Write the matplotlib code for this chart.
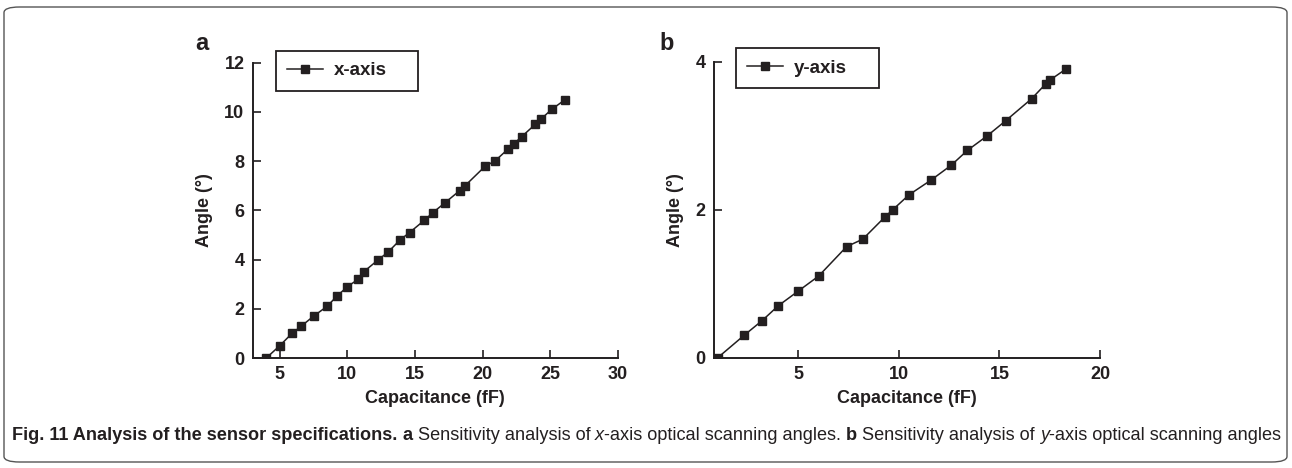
import matplotlib
matplotlib.use("Agg")
import matplotlib.pyplot as plt
from matplotlib.patches import FancyBboxPatch

plt.rcParams['font.family'] = ['Liberation Sans', 'DejaVu Sans']

# x-axis sensor: capacitance (fF) vs angle (deg)
cap_x = [4.0, 5.0, 5.9, 6.6, 7.5, 8.5, 9.2, 10.0, 10.8, 11.2, 12.3, 13.0, 13.9, 14.6,
         15.7, 16.3, 17.2, 18.3, 18.7, 20.2, 20.9, 21.9, 22.3, 22.9, 23.9, 24.3, 25.1, 26.1]
ang_x = [0.0, 0.5, 1.0, 1.3, 1.7, 2.1, 2.5, 2.9, 3.2, 3.5, 4.0, 4.3, 4.8, 5.1,
         5.6, 5.9, 6.3, 6.8, 7.0, 7.8, 8.0, 8.5, 8.7, 9.0, 9.5, 9.7, 10.1, 10.5]

# y-axis sensor
cap_y = [1.0, 2.3, 3.2, 4.0, 5.0, 6.0, 7.4, 8.2, 9.3, 9.7, 10.5, 11.6, 12.6, 13.4,
         14.4, 15.3, 16.6, 17.3, 17.5, 18.3]
ang_y = [0.0, 0.3, 0.5, 0.7, 0.9, 1.1, 1.5, 1.6, 1.9, 2.0, 2.2, 2.4, 2.6, 2.8,
         3.0, 3.2, 3.5, 3.7, 3.75, 3.9]

ink = '#231f20'

fig = plt.figure(figsize=(12.92, 4.68), dpi=100)

ax1 = fig.add_axes([0.1956, 0.235, 0.2826, 0.631])
ax2 = fig.add_axes([0.5526, 0.2361, 0.2988, 0.632])

def style(ax):
    for s in ['top', 'right']:
        ax.spines[s].set_visible(False)
    for s in ['left', 'bottom']:
        ax.spines[s].set_linewidth(1.4)
        ax.spines[s].set_color(ink)
    ax.tick_params(direction='in', length=6, width=1.2, color=ink,
                   labelsize=13, pad=6)
    for lab in ax.get_xticklabels() + ax.get_yticklabels():
        lab.set_fontweight('bold')
        lab.set_color(ink)

ax1.plot(cap_x, ang_x, color=ink, lw=1.1, marker='s', ms=5.5, label='x-axis')
ax1.set_xlim(3, 30)
ax1.set_ylim(0, 12)
ax1.set_xticks([5, 10, 15, 20, 25, 30])
ax1.set_yticks([0, 2, 4, 6, 8, 10, 12])
style(ax1)
ax1.set_xlabel('Capacitance (fF)', fontsize=13, fontweight='bold', color=ink, labelpad=5)
ax1.set_ylabel('Angle (°)', fontsize=13, fontweight='bold', color=ink, labelpad=8)

ax2.plot(cap_y, ang_y, color=ink, lw=1.1, marker='s', ms=5.5, label='y-axis')
ax2.set_xlim(0.8, 20)
ax2.set_ylim(0, 4)
ax2.set_xticks([5, 10, 15, 20])
ax2.set_yticks([0, 2, 4])
style(ax2)
ax2.set_xlabel('Capacitance (fF)', fontsize=13, fontweight='bold', color=ink, labelpad=5)
ax2.set_ylabel('Angle (°)', fontsize=13, fontweight='bold', color=ink, labelpad=8)

# legend boxes stretched wider than their content
for ax, anchor in [(ax1, (0.064, 0.9, 0.39, 0.14)), (ax2, (0.057, 0.905, 0.37, 0.14))]:
    leg = ax.legend(loc='upper left', bbox_to_anchor=anchor, mode='expand',
                    frameon=True, fancybox=False, edgecolor=ink, framealpha=1,
                    prop={'weight': 'bold', 'size': 13.5},
                    handlelength=1.9, borderpad=0.6, handletextpad=0.6,
                    borderaxespad=0)
    leg.get_frame().set_linewidth(1.3)
    for t in leg.get_texts():
        t.set_color(ink)

fig.text(195 / 1292, 1 - 44 / 468, 'a', fontsize=17, fontweight='bold', color=ink,
         va='center', ha='left')
fig.text(659 / 1292, 1 - 44 / 468, 'b', fontsize=17, fontweight='bold', color=ink,
         va='center', ha='left')

# caption built from pieces with different styles
cap_font = ['Liberation Sans Narrow', 'Liberation Sans', 'DejaVu Sans']
pieces = [
    ('Fig. 11 Analysis of the sensor specifications. ', 'bold', 'normal'),
    ('a', 'bold', 'normal'),
    (' Sensitivity analysis of ', 'normal', 'normal'),
    ('x', 'normal', 'italic'),
    ('-axis optical scanning angles. ', 'normal', 'normal'),
    ('b', 'bold', 'normal'),
    (' Sensitivity analysis of ', 'normal', 'normal'),
    ('y', 'normal', 'italic'),
    ('-axis optical scanning angles', 'normal', 'normal'),
]
renderer = fig.canvas.get_renderer()
xpos = 12
ypix = 436
for txt, w, st in pieces:
    t = fig.text(xpos / 1292, 1 - ypix / 468, txt, fontsize=13.1, fontweight=w,
                 fontstyle=st, family=cap_font, color=ink, va='center', ha='left')
    bb = t.get_window_extent(renderer=renderer)
    xpos += bb.width

border = FancyBboxPatch((4 / 1292, 6 / 468), 1283 / 1292, 455 / 468,
                        boxstyle='round,pad=0,rounding_size=0.012',
                        transform=fig.transFigure, fill=False,
                        edgecolor='#555555', lw=1.0)
fig.patches.append(border)

fig.savefig('out.png', dpi=100)
